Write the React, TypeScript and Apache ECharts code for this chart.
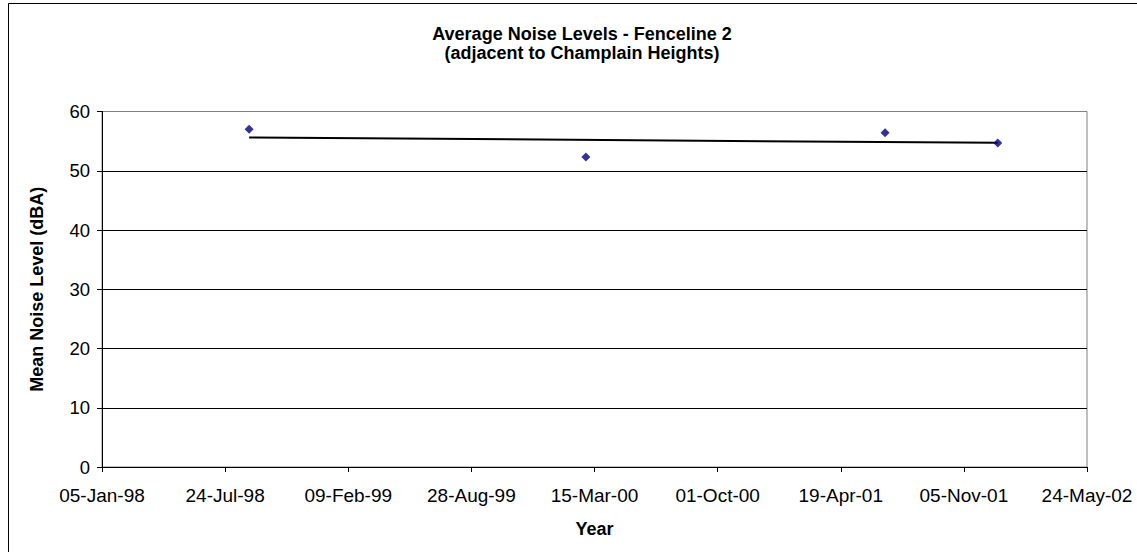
import React, { useEffect, useRef } from "react";
import * as echarts from "echarts";

const titleLines = ["Average Noise Levels - Fenceline 2", "(adjacent to Champlain Heights)"];
const xAxisTitle = "Year";
const yAxisTitle = "Mean Noise Level (dBA)";
const axisStartDate = "1998-01-05";
const tickStepDays = 200;
const xTickLabels = [
  "05-Jan-98",
  "24-Jul-98",
  "09-Feb-99",
  "28-Aug-99",
  "15-Mar-00",
  "01-Oct-00",
  "19-Apr-01",
  "05-Nov-01",
  "24-May-02",
];
const sampleDates = ["1998-09-01", "2000-03-01", "2001-06-30", "2001-12-30"];
const meanNoise = [57.0, 52.3, 56.4, 54.7];
const yMin = 0;
const yMax = 60;
const yStep = 10;

const DAY_MS = 86400000;
const dayOffset = (d: string) =>
  (Date.parse(d + "T00:00:00Z") - Date.parse(axisStartDate + "T00:00:00Z")) / DAY_MS;

const FONT = "'Liberation Sans', Arial, sans-serif";

export default function App() {
  const ref = useRef<HTMLDivElement>(null);

  useEffect(() => {
    document.body.style.margin = "0";
    if (!ref.current) return;
    const chart = echarts.init(ref.current, undefined, { renderer: "svg" });

    const xs = sampleDates.map(dayOffset);
    const points = xs.map((x, i) => [x, meanNoise[i]]);
    const n = xs.length;
    const mx = xs.reduce((a, b) => a + b, 0) / n;
    const my = meanNoise.reduce((a, b) => a + b, 0) / n;
    let sxy = 0;
    let sxx = 0;
    xs.forEach((x, i) => {
      sxy += (x - mx) * (meanNoise[i] - my);
      sxx += (x - mx) * (x - mx);
    });
    const slope = sxy / sxx;
    const intercept = my - slope * mx;
    const x0 = Math.min(...xs);
    const x1 = Math.max(...xs);
    const trend = [
      [x0, intercept + slope * x0],
      [x1, intercept + slope * x1],
    ];
    const xMax = tickStepDays * (xTickLabels.length - 1);

    chart.setOption({
      animation: false,
      textStyle: { fontFamily: FONT },
      title: {
        text: titleLines.join("\n"),
        left: 577,
        top: 19,
        textAlign: "center",
        textStyle: {
          fontFamily: FONT,
          fontSize: 18,
          fontWeight: "bold",
          color: "#000",
          lineHeight: 19,
        },
      },
      grid: {
        left: 102,
        right: 50,
        top: 111.5,
        bottom: 85,
        show: true,
        borderColor: "#808080",
        borderWidth: 1,
        backgroundColor: "transparent",
      },
      xAxis: {
        type: "value",
        min: 0,
        max: xMax,
        interval: tickStepDays,
        name: xAxisTitle,
        nameLocation: "middle",
        nameGap: 53,
        nameTextStyle: { fontFamily: FONT, fontSize: 18, fontWeight: "bold", color: "#000" },
        axisLine: { show: true, lineStyle: { color: "#000", width: 1 } },
        axisTick: { show: true, inside: false, length: 5, lineStyle: { color: "#000" } },
        axisLabel: {
          formatter: (v: number) => xTickLabels[Math.round(v / tickStepDays)] ?? "",
          fontFamily: FONT,
          fontSize: 19,
          color: "#000",
          margin: 19,
          showMinLabel: true,
          showMaxLabel: true,
          hideOverlap: false,
        },
        splitLine: { show: false },
      },
      yAxis: {
        type: "value",
        min: yMin,
        max: yMax,
        interval: yStep,
        name: yAxisTitle,
        nameLocation: "middle",
        nameGap: 56,
        nameTextStyle: { fontFamily: FONT, fontSize: 18, fontWeight: "bold", color: "#000" },
        axisLine: { show: true, lineStyle: { color: "#000", width: 1 } },
        axisTick: { show: true, inside: false, length: 5, lineStyle: { color: "#000" } },
        axisLabel: { fontFamily: FONT, fontSize: 18.5, color: "#000", margin: 12 },
        splitLine: { show: true, showMaxLine: false, lineStyle: { color: "#000", width: 1 } },
      },
      graphic: [
        {
          type: "rect",
          shape: { x: 8.5, y: 3.5, width: 1300, height: 700 },
          style: { fill: "none", stroke: "#000", lineWidth: 1 },
          silent: true,
        },
      ],
      series: [
        {
          type: "line",
          data: trend,
          symbol: "none",
          lineStyle: { color: "#000", width: 2 },
          z: 2,
        },
        {
          type: "scatter",
          data: points,
          symbol: "diamond",
          symbolSize: 9,
          itemStyle: { color: "#000080" },
          z: 3,
        },
      ],
    });

    return () => chart.dispose();
  }, []);

  return <div ref={ref} style={{ width: 1137, height: 552 }} />;
}
